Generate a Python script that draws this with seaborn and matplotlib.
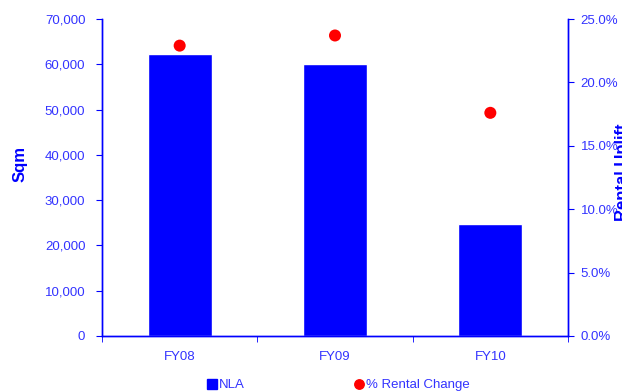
import matplotlib
matplotlib.use("Agg")
import matplotlib.pyplot as plt
import seaborn as sns
import pandas as pd
from matplotlib.ticker import FuncFormatter, FixedLocator
from matplotlib.lines import Line2D

years = ["FY08", "FY09", "FY10"]
nla_sqm = [62300, 60000, 24700]
rental_change_pct = [22.9, 23.7, 17.6]

sns.set_style("white")
plt.rcParams["font.family"] = ["Liberation Sans", "DejaVu Sans"]

BLUE = "#0000FF"
TICK_BLUE = "#3333FF"
RED = "#FF0000"
FS = 9.5

df = pd.DataFrame({"year": years, "nla": nla_sqm, "pct": rental_change_pct})

W, H = 622, 392
fig = plt.figure(figsize=(W / 100, H / 100), dpi=100)
x0, x1, y0, y1 = 102, 568, 19, 336
ax = fig.add_axes([x0 / W, 1 - y1 / H, (x1 - x0) / W, (y1 - y0) / H])

# NLA bars on the left axis
sns.barplot(data=df, x="year", y="nla", color=BLUE, saturation=1, width=0.41, ax=ax)
ax.set_xlim(-0.5, 2.5)
ax.set_ylim(0, 70000)
ax.set_yticks(range(0, 70001, 10000))
ax.yaxis.set_major_formatter(FuncFormatter(lambda v, p: f"{int(v):,}"))
ax.set_xlabel("")
ax.set_ylabel("Sqm", color=BLUE, fontsize=12, fontweight="bold")
ax.yaxis.set_label_coords((28 - x0) / (x1 - x0), (y1 - 164) / (y1 - y0))

# rental change points on the right axis
ax2 = ax.twinx()
sns.scatterplot(data=df, x="year", y="pct", color=RED, s=75, edgecolor="none", ax=ax2, zorder=5)
ax2.set_xlim(-0.5, 2.5)
ax2.set_ylim(0, 25)
ax2.set_yticks([0, 5, 10, 15, 20, 25])
ax2.yaxis.set_major_formatter(FuncFormatter(lambda v, p: f"{v:.1f}%"))
ax2.set_ylabel("Rental Uplift", color=BLUE, fontsize=12, fontweight="bold")
ax2.yaxis.set_label_coords((615 - x0) / (x1 - x0), (y1 - 172) / (y1 - y0))

for a in (ax, ax2):
    a.spines["top"].set_visible(False)
    for side in ("left", "right", "bottom"):
        a.spines[side].set_color(BLUE)
        a.spines[side].set_linewidth(1.0)

ax.tick_params(axis="y", colors=BLUE, labelcolor=TICK_BLUE, labelsize=FS, length=4,
               direction="out", left=True, pad=8)
ax2.tick_params(axis="y", colors=BLUE, labelcolor=TICK_BLUE, labelsize=FS, length=4,
                direction="out", right=True, pad=5)
ax.tick_params(axis="x", which="major", length=0, labelcolor=TICK_BLUE, labelsize=FS, pad=10.5)
ax.xaxis.set_minor_locator(FixedLocator([-0.5, 0.5, 1.5, 2.5]))
ax.tick_params(axis="x", which="minor", length=4, color=BLUE, direction="out", bottom=True)
ax2.tick_params(axis="x", length=0)

handles = [
    Line2D([], [], marker="s", color=BLUE, linestyle="none", markersize=7.2),
    Line2D([], [], marker="o", color=RED, linestyle="none", markersize=6.8),
]
fig.legend(handles, ["NLA", "% Rental Change"], loc="center left", ncol=2,
           bbox_to_anchor=(206.7 / W, 1 - 385 / H), frameon=False, borderpad=0,
           borderaxespad=0, columnspacing=8.2, handletextpad=0.15, handlelength=0.8,
           labelcolor=TICK_BLUE, fontsize=FS)

fig.savefig("out.png", dpi=100)
